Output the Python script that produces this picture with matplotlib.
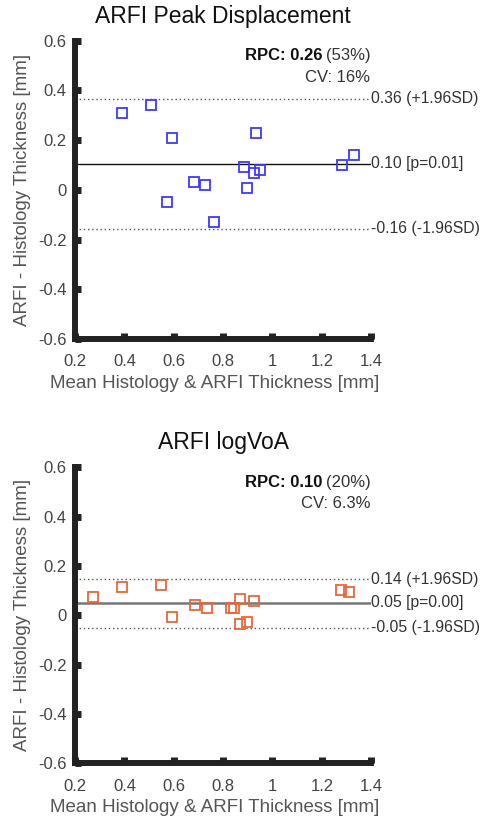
import matplotlib
matplotlib.use("Agg")
import matplotlib.pyplot as plt
from matplotlib.transforms import offset_copy

plt.rcParams['font.family'] = ['Liberation Sans', 'DejaVu Sans']

# Panel 1: ARFI Peak Displacement
pd_x = [0.39, 0.507, 0.592, 0.572, 0.681, 0.728, 0.763, 0.885, 0.896, 0.927, 0.935, 0.951, 1.281, 1.332]
pd_y = [0.31, 0.34, 0.21, -0.05, 0.03, 0.02, -0.13, 0.09, 0.008, 0.067, 0.23, 0.08, 0.10, 0.14]
pd_mean, pd_upper, pd_lower = 0.105, 0.367, -0.157
pd_labels = ["0.36 (+1.96SD)", "0.10 [p=0.01]", "-0.16 (-1.96SD)"]
pd_rpc, pd_pct, pd_cv = "RPC: 0.26", "(53%)", "CV: 16%"

# Panel 2: ARFI logVoA
lv_x = [0.272, 0.39, 0.547, 0.592, 0.688, 0.735, 0.832, 0.846, 0.869, 0.868, 0.898, 0.925, 1.278, 1.309]
lv_y = [0.073, 0.113, 0.123, -0.008, 0.042, 0.031, 0.031, 0.031, 0.065, -0.036, -0.027, 0.057, 0.101, 0.093]
lv_mean, lv_upper, lv_lower = 0.051, 0.147, -0.05
lv_labels = ["0.14 (+1.96SD)", "0.05 [p=0.00]", "-0.05 (-1.96SD)"]
lv_rpc, lv_pct, lv_cv = "RPC: 0.10", "(20%)", "CV: 6.3%"

xticks = [0.2, 0.4, 0.6, 0.8, 1.0, 1.2, 1.4]
xticklabels = ["0.2", "0.4", "0.6", "0.8", "1", "1.2", "1.4"]
yticks = [-0.6, -0.4, -0.2, 0, 0.2, 0.4, 0.6]
yticklabels = ["-0.6", "-0.4", "-0.2", "0", "0.2", "0.4", "0.6"]

fig = plt.figure(figsize=(4.84, 8.22), dpi=100)
ax1 = fig.add_axes([0.155, 0.5876, 0.612, 0.363])
ax2 = fig.add_axes([0.155, 0.0714, 0.612, 0.360])


def panel(ax, title, xs, ys, mean, up, lo, labels, rpc, pct, cv, color, meancolor, meanlw):
    ax.set_xlim(0.2, 1.4)
    ax.set_ylim(-0.6, 0.6)
    ax.plot(xs, ys, linestyle='none', marker='s', markersize=6.5,
            markerfacecolor='none', markeredgecolor=color, markeredgewidth=1.3, zorder=3)
    ax.axhline(mean, color=meancolor, lw=meanlw, zorder=2)
    ax.axhline(up, color='#555555', lw=1.0, ls=(0, (1, 2)), zorder=2)
    ax.axhline(lo, color='#555555', lw=1.0, ls=(0, (1, 2)), zorder=2)
    for val, lab in zip([up, mean, lo], labels):
        ax.text(1.0, val, lab, transform=ax.get_yaxis_transform(), ha='left', va='center',
                fontsize=11.3, color='#333333', clip_on=False)
    t = ax.text(0.997, 0.95, pct, transform=ax.transAxes,
                ha='right', va='center', fontsize=12, color='#333333')
    fig.canvas.draw()
    w = t.get_window_extent().width
    tr = offset_copy(ax.transAxes, fig=fig, x=-(w + 3.5) * 72.0 / fig.dpi, y=0, units='points')
    ax.text(0.997, 0.95, rpc, transform=tr, ha='right', va='center', fontsize=12,
            fontweight='bold', color='#111111')
    ax.text(0.997, 0.878, cv, transform=ax.transAxes, ha='right', va='center',
            fontsize=12, color='#333333')
    ax.set_title(title, fontsize=16.5, color='#111111', pad=13)
    ax.set_xticks(xticks)
    ax.set_xticklabels(xticklabels)
    ax.set_yticks(yticks)
    ax.set_yticklabels(yticklabels)
    for s in ['top', 'right']:
        ax.spines[s].set_visible(False)
    for s in ['left', 'bottom']:
        ax.spines[s].set_linewidth(4.3)
        ax.spines[s].set_color('#222222')
        ax.spines[s].set_capstyle('projecting')
    ax.tick_params(direction='in', length=4.2, width=5, color='#222222',
                   labelsize=12, labelcolor='#444444')
    ax.tick_params(axis='x', pad=11)
    ax.tick_params(axis='y', pad=6)
    ax.set_xlabel("Mean Histology & ARFI Thickness [mm]", fontsize=13.5, color='#555555')
    ax.set_ylabel("ARFI - Histology Thickness [mm]", fontsize=13.5, color='#555555')
    ax.xaxis.set_label_coords(0.473, -0.12)
    ax.yaxis.set_label_coords(-0.15, 0.5)


panel(ax1, "ARFI Peak Displacement", pd_x, pd_y, pd_mean, pd_upper, pd_lower, pd_labels,
      pd_rpc, pd_pct, pd_cv, '#3a3aff', '#111111', 1.0)
panel(ax2, "ARFI logVoA", lv_x, lv_y, lv_mean, lv_upper, lv_lower, lv_labels,
      lv_rpc, lv_pct, lv_cv, '#e8673a', '#777777', 1.8)

fig.savefig("out.png", dpi=100)
